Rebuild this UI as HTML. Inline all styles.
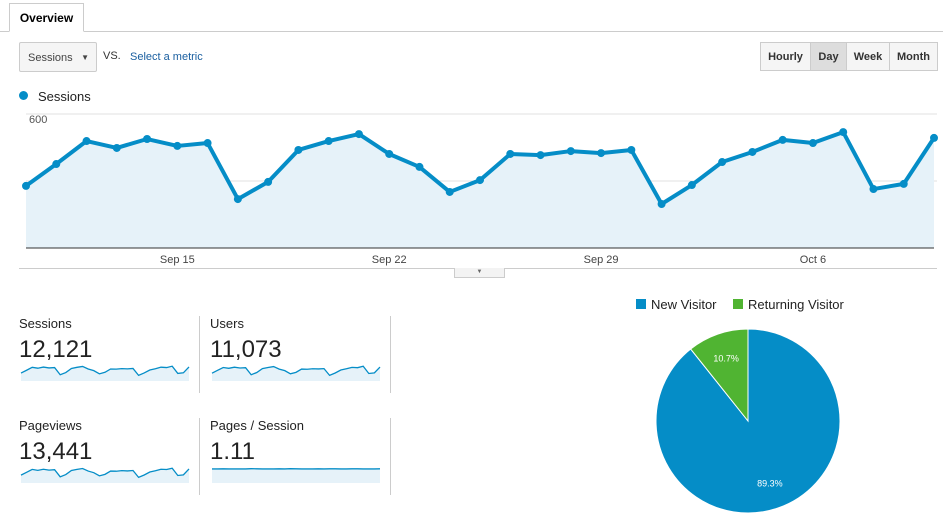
<!DOCTYPE html>
<html><head><meta charset="utf-8"><style>
body{margin:0;width:943px;height:517px;background:#fff;font-family:"Liberation Sans",Arial,sans-serif;position:relative;overflow:hidden}
.abs{position:absolute}
.btn{position:absolute;top:42px;height:29px;border:1px solid #ccc;background:#f5f5f5;font-size:11px;font-weight:bold;color:#333;line-height:29px;text-align:center;box-sizing:border-box}
.lbl{font-size:13px;color:#222}
.val{font-size:24px;color:#222}
</style></head><body>
<div class="abs" style="left:0;top:31px;width:943px;height:1px;background:#ccc"></div>
<div class="abs" style="left:9px;top:3px;width:75px;height:29px;border:1px solid #ccc;border-bottom:1px solid #fff;background:#fff;font-size:12px;font-weight:bold;line-height:29px;text-align:center;box-sizing:border-box">Overview</div>
<div class="abs" style="left:19px;top:42px;width:78px;height:30px;border:1px solid #ccc;border-radius:2px;background:#f5f5f5;font-size:11px;color:#444;line-height:30px;padding-left:8px;box-sizing:border-box">Sessions <span style="position:absolute;right:7px;font-size:8px">▼</span></div>
<div class="abs" style="left:103px;top:50px;font-size:11px;color:#333">VS.</div>
<div class="abs" style="left:130px;top:51px;font-size:11px;color:#1a5fa0">Select a metric</div>
<div class="btn" style="left:760px;width:51px">Hourly</div>
<div class="btn" style="left:810px;width:37px;background:#ddd">Day</div>
<div class="btn" style="left:846px;width:44px">Week</div>
<div class="btn" style="left:889px;width:49px">Month</div>
<div class="abs" style="left:19px;top:91px;width:9px;height:9px;border-radius:50%;background:#058dc7"></div>
<div class="abs" style="left:38px;top:89px;font-size:13px;color:#222">Sessions</div>
<svg class="abs" style="left:0;top:0" width="943" height="517">
<g id="main"></g>
<g id="sparks"></g>
<g id="pie"></g>
</svg>
<div class="abs" style="left:19px;top:268px;width:918px;height:1px;background:#ccc"></div>
<div class="abs" style="left:454px;top:268px;width:49px;height:9px;border:1px solid #ccc;border-top:none;background:#f3f3f3;font-size:6px;text-align:center;color:#666;line-height:9px">▼</div>

<div class="abs lbl" style="left:19px;top:316px">Sessions</div>
<div class="abs val" style="left:19px;top:336px">12,121</div>
<div class="abs lbl" style="left:210px;top:316px">Users</div>
<div class="abs val" style="left:210px;top:336px">11,073</div>
<div class="abs lbl" style="left:19px;top:418px">Pageviews</div>
<div class="abs val" style="left:19px;top:438px">13,441</div>
<div class="abs lbl" style="left:210px;top:418px">Pages / Session</div>
<div class="abs val" style="left:210px;top:438px">1.11</div>
<div class="abs" style="left:199px;top:316px;width:1px;height:77px;background:#ccc"></div>
<div class="abs" style="left:390px;top:316px;width:1px;height:77px;background:#ccc"></div>
<div class="abs" style="left:199px;top:418px;width:1px;height:77px;background:#ccc"></div>
<div class="abs" style="left:390px;top:418px;width:1px;height:77px;background:#ccc"></div>

<div class="abs" style="left:636px;top:297px;font-size:13px;color:#222"><span style="display:inline-block;width:10px;height:10px;background:#058dc7;margin-right:5px"></span>New Visitor</div>
<div class="abs" style="left:733px;top:297px;font-size:13px;color:#222"><span style="display:inline-block;width:10px;height:10px;background:#50b432;margin-right:5px"></span>Returning Visitor</div>
<script>
const NS='http://www.w3.org/2000/svg';
const dates=['Sep 15','Sep 22','Sep 29','Oct 6'];
const dateIdx=[5,12,19,26];
const yTicks=[300,600];
const sessions=[278,376,479,448,488,457,470,219,296,439,479,510,421,363,251,304,421,416,434,425,439,197,282,385,430,484,470,519,264,287,493];
const users=[250,340,430,405,440,415,425,200,270,395,430,460,380,330,230,275,380,375,390,385,395,180,255,350,390,435,425,470,240,260,445];
const pageviews=[280,380,485,450,490,460,475,220,300,445,485,515,425,368,255,308,425,420,440,430,445,200,285,390,435,490,480,525,268,290,500];
const pagesPerSession=[1.10,1.10,1.11,1.10,1.10,1.10,1.10,1.12,1.11,1.10,1.10,1.10,1.11,1.10,1.12,1.11,1.10,1.10,1.10,1.11,1.10,1.11,1.11,1.10,1.10,1.11,1.11,1.10,1.10,1.10,1.11];
const pieLabels=['New Visitor','Returning Visitor'];
const pieValues=[89.3,10.7];
const pieColors=['#058dc7','#50b432'];
function mk(t,a,p){const e=document.createElementNS(NS,t);for(const k in a)e.setAttribute(k,a[k]);p.appendChild(e);return e;}
const X0=26,X1=934,Y0=248,YT=114;
const x=i=>X0+i*(X1-X0)/(sessions.length-1);
const y=v=>Y0-(v/600)*(Y0-YT);
const g=document.getElementById('main');
let gl=mk('line',{x1:X0,x2:X1+3,y1:YT,y2:YT,stroke:'#e5e5e5'},g);


yTicks.forEach(t=>{const l=mk('line',{x1:X0,x2:X1+3,y1:y(t),y2:y(t),stroke:'#e0e0e0'},g);


const tx=mk('text',{x:29,y:y(t)+9,'font-size':11,fill:'#555'},g);tx.textContent=t;

});
let pts=sessions.map((v,i)=>x(i)+','+y(v)).join(' ');
const area=mk('polygon',{points:X0+','+Y0+' '+pts+' '+X1+','+Y0,fill:'#e6f2f9'},g);


const ax=mk('line',{x1:X0,x2:X1,y1:Y0,y2:Y0,stroke:'#333','stroke-width':1},g);


const line=mk('polyline',{points:pts,fill:'none',stroke:'#058dc7','stroke-width':4,'stroke-linejoin':'round'},g);


sessions.forEach((v,i)=>{const c=mk('circle',{cx:x(i),cy:y(v),r:4,fill:'#058dc7'},g);

});
dates.forEach((d,k)=>{const t=mk('text',{x:x(dateIdx[k]),y:263,'font-size':11,fill:'#444','text-anchor':'middle'},g);t.textContent=d;

});
const sg=document.getElementById('sparks');
function spark(data,left,top,min,max,name){const w=168,h=16;
const sx=i=>left+i*w/(data.length-1),sy=v=>top+h-(v-min)/(max-min)*h;
const p=data.map((v,i)=>sx(i)+','+sy(v)).join(' ');
const a=mk('polygon',{points:left+','+(top+h+0)+' '+p+' '+(left+w)+','+(top+h)+'',fill:'#e6f2f9'},sg);


const l=mk('polyline',{points:p,fill:'none',stroke:'#058dc7','stroke-width':1.3},sg);

}
spark(sessions,21,365,0,560,'sessions');
spark(users,212,365,0,510,'users');
spark(pageviews,21,467,0,570,'pageviews');
spark(pagesPerSession,403-191,467,0,1.25,'pages-session');
const pg=document.getElementById('pie');
const cx=748,cy=421,r=92;const tot=pieValues.reduce((a,b)=>a+b,0);
let ang=0;
pieValues.forEach((v,i)=>{const a0=ang,a1=ang+v/tot*2*Math.PI;ang=a1;
const P=a=>[cx+r*Math.sin(a),cy-r*Math.cos(a)];
const [x0,y0]=P(a0),[x1,y1]=P(a1);
const s=mk('path',{d:`M${cx},${cy}L${x0},${y0}A${r},${r} 0 ${a1-a0>Math.PI?1:0} 1 ${x1},${y1}Z`,fill:pieColors[i],stroke:'#fff','stroke-width':1},pg);


const m=(a0+a1)/2,lr=r*0.72;
const t=mk('text',{x:cx+lr*Math.sin(m),y:cy-lr*Math.cos(m)+3,'font-size':9,fill:'#fff','text-anchor':'middle'},pg);
t.textContent=v.toFixed(1)+'%';

});
</script>
</body></html>
